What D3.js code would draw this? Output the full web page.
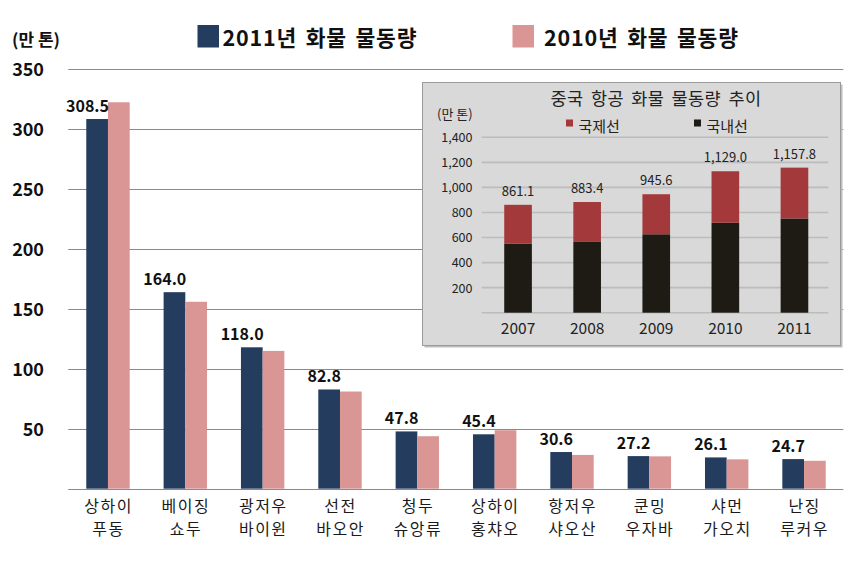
<!DOCTYPE html>
<html><head><meta charset="utf-8">
<script src="https://cdn.jsdelivr.net/npm/d3@7"></script>
<style>
html,body{margin:0;padding:0;background:#fff;}
svg{display:block;font-family:"Noto Sans CJK KR","Noto Sans",sans-serif;}
</style></head>
<body>
<svg id="c" width="866" height="562"></svg>
<script>
// ---- main chart data ----
const cities = [["상하이","푸동"],["베이징","쇼두"],["광저우","바이윈"],["선전","바오안"],["청두","슈앙류"],["상하이","홍챠오"],["항저우","샤오산"],["쿤밍","우자바"],["샤먼","가오치"],["난징","루커우"]];
const cityKeys = ["상하이 푸동","베이징 쇼두","광저우 바이윈","선전 바오안","청두 슈앙류","상하이 홍챠오","항저우 샤오산","쿤밍 우자바","샤먼 가오치","난징 루커우"];
const cargo2011 = [308.5,164.0,118.0,82.8,47.8,45.4,30.6,27.2,26.1,24.7];
const cargo2010 = [322.5,156.0,115.0,81.1,43.8,48.8,28.2,27.0,24.5,23.3];
const seriesNames = ["2011년 화물 물동량","2010년 화물 물동량"];
const mainTicks = [50,100,150,200,250,300,350];
const mainUnit = "(만 톤)";

// ---- inset data ----
const years = ["2007","2008","2009","2010","2011"];
const domestic = [552,565,626,718,752];
const international = [309.1,318.4,319.6,411.0,405.8];
const totals = ["861.1","883.4","945.6","1,129.0","1,157.8"];
const insetTicks = [200,400,600,800,1000,1200,1400];
const insetTitle = "중국 항공 화물 물동량 추이";
const insetSeries = ["국제선","국내선"];

const C2011 = "#243c5e", C2010 = "#d99694";
const CINT = "#a3393a", CDOM = "#1e1b14";

const svg = d3.select("#c");

// main scales
const y = d3.scaleLinear().domain([0,350]).range([488.7,69.3]);
const x = d3.scaleBand().domain(cityKeys).range([69.3,842.7]).padding(0);
const pairW = 43.4;
const xs = d3.scaleBand().domain(["2011","2010"]).range([(x.step()-pairW)/2,(x.step()+pairW)/2]);

// gridlines
const gl = svg.append("g");
gl.selectAll("line").data([0].concat(mainTicks)).join("line")
  .attr("x1",68.3).attr("x2",843.3)
  .attr("y1",d=>Math.round(y(d))+0.5).attr("y2",d=>Math.round(y(d))+0.5)
  .attr("stroke","#8a8a8a").attr("stroke-width",1);

// y axis labels
const yAxis = d3.axisLeft(y).tickValues(mainTicks).tickSize(0).tickPadding(0).tickFormat(d3.format("d"));
const ya = svg.append("g").attr("transform","translate(44,0)").call(yAxis);
ya.select(".domain").remove();
ya.selectAll("text").attr("font-size",18).attr("font-weight","bold").attr("fill","#111")
  .attr("font-family","'Noto Sans CJK KR',sans-serif").attr("dy","0.35em");

// unit
svg.append("text").attr("x",12).attr("y",46).attr("font-size",17).attr("font-weight","bold").attr("fill","#111").text(mainUnit);

// bars
const gb = svg.append("g");
cityKeys.forEach((k,i)=>{
  const gx = x(k);
  gb.append("rect").attr("x",gx+xs("2011")).attr("width",xs.bandwidth())
    .attr("y",y(cargo2011[i])).attr("height",y(0)-y(cargo2011[i])).attr("fill",C2011);
  gb.append("rect").attr("x",gx+xs("2010")).attr("width",xs.bandwidth())
    .attr("y",y(cargo2010[i])).attr("height",y(0)-y(cargo2010[i])).attr("fill",C2010);
  gb.append("text").attr("x",gx+xs("2011")+xs.bandwidth()+1).attr("y",y(cargo2011[i])-7)
    .attr("text-anchor","end").attr("font-size",16).attr("font-weight","bold").attr("fill","#111")
    .text(cargo2011[i].toFixed(1));
  const cx = gx+x.step()/2 + 0.6;
  gb.append("text").attr("x",cx).attr("y",511.5).attr("text-anchor","middle").attr("font-size",16)
    .attr("letter-spacing",1.5).attr("fill","#1a1a1a").text(cities[i][0]);
  gb.append("text").attr("x",cx).attr("y",535).attr("text-anchor","middle").attr("font-size",16)
    .attr("letter-spacing",1.5).attr("fill","#1a1a1a").text(cities[i][1]);
});

// main legend
const legX = [[197.5,222.5],[512.5,544]];
seriesNames.forEach((n,i)=>{
  svg.append("rect").attr("x",legX[i][0]).attr("y",25).attr("width",21.5).attr("height",22.5).attr("fill",i===0?C2011:C2010);
  svg.append("text").attr("x",legX[i][1]).attr("y",45.5).attr("font-size",21.5).attr("font-weight","bold")
    .attr("letter-spacing",0.8).attr("word-spacing",3).attr("fill","#111").text(n);
});

// ---- inset ----
const ig = svg.append("g");
ig.append("rect").attr("x",424.5).attr("y",84.5).attr("width",418).attr("height",263).attr("fill","#bdbdbd");
ig.append("rect").attr("x",422.5).attr("y",82.5).attr("width",418).attr("height",263)
  .attr("fill","#d9d9d9").attr("stroke","#9a9a9a").attr("stroke-width",1);

const iy = d3.scaleLinear().domain([0,1400]).range([312.7,137.3]);
const ix = d3.scaleBand().domain(years).range([483.5,829]).paddingInner(0.6).paddingOuter(0.3);

ig.append("g").selectAll("line").data([0].concat(insetTicks)).join("line")
  .attr("x1",481.7).attr("x2",828.3).attr("y1",d=>iy(d)).attr("y2",d=>iy(d))
  .attr("stroke","#bcbcbc").attr("stroke-width",1.6);

const iyAxis = d3.axisLeft(iy).tickValues(insetTicks).tickSize(0).tickPadding(0).tickFormat(d3.format(","));
const iya = ig.append("g").attr("transform","translate(472.5,0)").call(iyAxis);
iya.select(".domain").remove();
iya.selectAll("text").attr("font-size",12.5).attr("fill","#222")
  .attr("font-family","'Noto Sans CJK KR',sans-serif").attr("dy","0.35em");

const stack = d3.stack().keys(["dom","intl"])(years.map((yr,i)=>({year:yr,dom:domestic[i],intl:international[i]})));
ig.append("g").selectAll("g").data(stack).join("g").attr("fill",d=>d.key==="dom"?CDOM:CINT)
  .selectAll("rect").data(d=>d).join("rect")
  .attr("x",d=>ix(d.data.year)).attr("width",ix.bandwidth())
  .attr("y",d=>iy(d[1])).attr("height",d=>iy(d[0])-iy(d[1]));

years.forEach((yr,i)=>{
  const top = domestic[i]+international[i];
  ig.append("text").attr("x",ix(yr)+ix.bandwidth()/2).attr("y",iy(top)-9).attr("text-anchor","middle")
    .attr("font-size",13).attr("fill","#222").text(totals[i]);
  ig.append("text").attr("x",ix(yr)+ix.bandwidth()/2).attr("y",334).attr("text-anchor","middle")
    .attr("font-size",15.5).attr("fill","#222").text(yr);
});

ig.append("text").attr("x",656).attr("y",105).attr("text-anchor","middle").attr("font-size",17.5).attr("fill","#222")
  .attr("letter-spacing",0.4).attr("word-spacing",3).text(insetTitle);
ig.append("text").attr("x",437).attr("y",119).attr("font-size",13).attr("fill","#222").text(mainUnit);
const ilx = [[566,578.5],[694,706.5]];
insetSeries.forEach((n,i)=>{
  ig.append("rect").attr("x",ilx[i][0]).attr("y",119.5).attr("width",7).attr("height",7).attr("fill",i===0?CINT:CDOM);
  ig.append("text").attr("x",ilx[i][1]).attr("y",132).attr("font-size",15).attr("fill","#222").text(n);
});
</script>
</body></html>
